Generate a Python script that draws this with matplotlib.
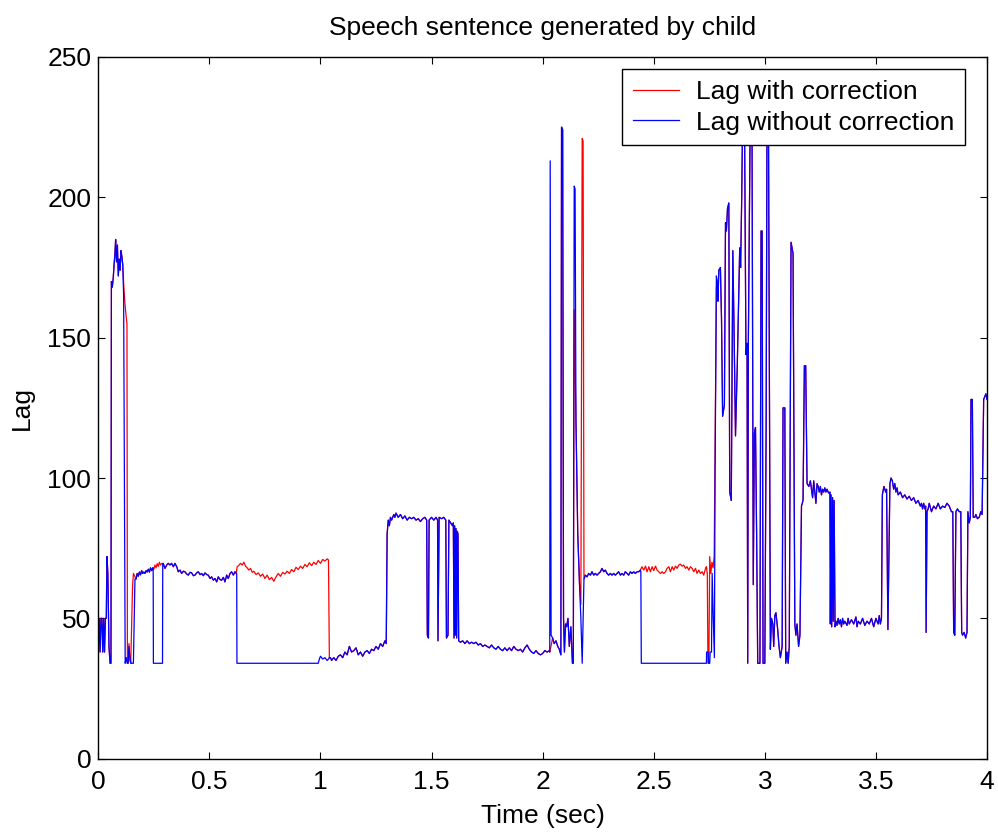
import matplotlib
matplotlib.use("Agg")
import matplotlib.pyplot as plt

plt.rcParams['font.family'] = ['Liberation Sans', 'DejaVu Sans']

# ---------------- data (time in s, lag in samples) ----------------
# shared start
seg0_t = [0.000, 0.004, 0.008, 0.012, 0.016, 0.020, 0.024, 0.028, 0.032, 0.036,
          0.039, 0.043, 0.048, 0.053, 0.057, 0.059, 0.063, 0.067, 0.071, 0.075,
          0.078, 0.082, 0.086, 0.090, 0.094, 0.098, 0.102, 0.106]
seg0_v = [38, 50, 38, 50, 50, 38, 50, 38, 50, 50,
          72, 66, 40, 34, 34, 170, 168, 171, 176, 180,
          185, 177, 183, 172, 178, 174, 181, 179]

red1_t = [0.110, 0.115, 0.120, 0.126, 0.129, 0.131, 0.134, 0.138, 0.142, 0.146,
          0.150, 0.154, 0.158, 0.164]
red1_v = [176, 168, 162, 157, 155, 36, 34, 41, 35, 34,
          48, 61, 66, 65]
blue1_t = [0.110, 0.114, 0.121, 0.126, 0.130, 0.134, 0.138, 0.142, 0.147, 0.152,
           0.158, 0.162, 0.165]
blue1_v = [176, 165, 34, 36, 34, 34, 40, 36, 34, 34,
           34, 50, 64]

seg2_t = [0.170, 0.175, 0.180, 0.185, 0.190, 0.195, 0.200, 0.205, 0.210, 0.215,
          0.220, 0.225, 0.230, 0.235, 0.240, 0.245]
seg2_v = [64, 66, 65, 66.5, 65.5, 67, 66, 66.5, 66, 67,
          66.5, 67.5, 66.5, 68, 67, 68]

red3_t = [0.250, 0.255, 0.260, 0.265, 0.270, 0.275, 0.280, 0.285]
red3_v = [67.5, 69, 68, 69.5, 68.5, 70, 69, 69.5]
blue3_t = [0.247, 0.248, 0.289, 0.290]
blue3_v = [68, 34, 34, 69]

seg4_t = [0.292, 0.300, 0.308, 0.315, 0.323, 0.330, 0.338, 0.345, 0.353, 0.360,
          0.368, 0.375, 0.383, 0.390, 0.398, 0.405, 0.413, 0.420, 0.428, 0.435,
          0.443, 0.450, 0.458, 0.465, 0.473, 0.480, 0.488, 0.495, 0.503, 0.510,
          0.518, 0.525, 0.533, 0.540, 0.548, 0.555, 0.563, 0.570, 0.578, 0.585,
          0.593, 0.600, 0.608, 0.615, 0.621]
seg4_v = [69.6, 67.8, 69.0, 69.6, 69.0, 69.6, 68.4, 69.6, 68.4, 66.6,
          67.2, 66.0, 66.8, 66.6, 65.8, 65.4, 66.4, 66.2, 65.2, 65.4,
          66.2, 66.6, 65.6, 66.0, 65.2, 66.2, 65.6, 65.4, 64.2, 64.8,
          63.6, 64.2, 63.0, 64.8, 63.8, 63.6, 64.6, 63.0, 65.4, 64.2,
          66.0, 66.6, 65.4, 66.6, 66.0]

red5_t = [0.625, 0.632, 0.640, 0.648, 0.655, 0.663, 0.670, 0.678, 0.685, 0.693,
          0.70, 0.71, 0.72, 0.73, 0.74, 0.75, 0.76, 0.77, 0.78, 0.79,
          0.80, 0.81, 0.82, 0.83, 0.84, 0.85, 0.86, 0.87, 0.88, 0.89,
          0.90, 0.91, 0.92, 0.93, 0.94, 0.95, 0.96, 0.97, 0.98, 0.99,
          1.00, 1.01, 1.02, 1.03, 1.036, 1.040]
red5_v = [68.4, 68.8, 69.6, 69.0, 70.0, 68.6, 68.0, 67.2, 67.8, 66.4,
          66.8, 65.6, 66.2, 65.0, 65.8, 64.2, 65.4, 63.8, 64.6, 63.2,
          64.8, 66.0, 65.0, 66.4, 65.8, 66.8, 66.0, 67.4, 66.6, 68.2,
          67.4, 68.6, 67.8, 69.2, 68.4, 69.8, 68.8, 70.0, 69.2, 70.6,
          69.6, 71.0, 70.4, 71.2, 70.8, 36.0]
blue5_t = [0.623, 0.624, 0.990, 0.995, 1.000, 1.010, 1.020, 1.030, 1.036, 1.040]
blue5_v = [66.0, 34, 34, 35.5, 36.5, 35.5, 36.0, 35.0, 35.5, 36.0]

seg6_t = [1.045, 1.05, 1.06, 1.07, 1.08, 1.09, 1.10, 1.11, 1.12, 1.13,
          1.14, 1.15, 1.16, 1.17, 1.18, 1.19, 1.20, 1.21, 1.22, 1.23,
          1.24, 1.25, 1.26, 1.27, 1.28, 1.29, 1.296, 1.300, 1.305, 1.31,
          1.315, 1.32, 1.33, 1.335, 1.34, 1.35, 1.36, 1.37, 1.38, 1.39,
          1.40, 1.41, 1.42, 1.43, 1.44, 1.45, 1.46, 1.47, 1.478, 1.481,
          1.486, 1.489, 1.50, 1.51, 1.52, 1.527, 1.529, 1.534, 1.545, 1.555,
          1.564, 1.567, 1.574, 1.578, 1.586, 1.594, 1.598, 1.601, 1.604, 1.607,
          1.610, 1.613, 1.616, 1.619, 1.622, 1.63, 1.64, 1.65, 1.66, 1.67,
          1.68, 1.69, 1.70, 1.71, 1.72, 1.73, 1.74, 1.75, 1.76, 1.77,
          1.78, 1.79, 1.80, 1.81, 1.82, 1.83, 1.84, 1.85, 1.86, 1.87,
          1.88, 1.89, 1.90, 1.91, 1.92, 1.93, 1.94, 1.95, 1.96, 1.97,
          1.98, 1.99, 2.00, 2.01, 2.02, 2.03]
seg6_v = [36, 35, 36, 35, 36.5, 37, 36, 38, 37, 40,
          38, 38.5, 39.5, 37, 38, 36.5, 38, 38.5, 37.5, 39,
          38.5, 40, 39, 41, 40, 42, 41, 80, 85, 83,
          86, 85, 87, 86, 87.5, 86, 87, 85.5, 86.5, 85,
          86, 85.5, 86, 85, 85.5, 84.5, 85.5, 86, 85, 44,
          43, 85, 86, 85, 86, 85, 42, 86, 85.5, 86,
          85, 43, 44, 85, 84, 83, 84, 43, 83, 44,
          82, 43, 81, 80, 42, 41.5, 42, 41, 42, 41,
          41.5, 41, 41.5, 40.5, 41, 40, 40.5, 40, 39.5, 40.5,
          39.5, 39, 40, 39, 38.5, 39.5, 38.5, 39.5, 38.5, 40,
          39, 38.5, 39, 38, 39.5, 40.5, 39, 38, 37.5, 38.5,
          37.5, 37, 37.5, 38.5, 38, 38.5]

red7_t = [2.032, 2.045, 2.052, 2.060, 2.068, 2.075, 2.082, 2.085, 2.090, 2.094,
          2.098, 2.103, 2.108, 2.114, 2.120, 2.127, 2.134, 2.138, 2.142, 2.150,
          2.158, 2.166, 2.172, 2.178, 2.182, 2.186]
red7_v = [38, 43, 41, 42, 40, 39, 37, 225, 224, 50,
          38, 48, 47, 50, 40, 47, 34, 34, 160, 120,
          80, 62, 55, 221, 220, 64]
blue7_t = [2.032, 2.034, 2.038, 2.045, 2.052, 2.060, 2.068, 2.075, 2.082, 2.085,
           2.090, 2.094, 2.098, 2.103, 2.108, 2.114, 2.120, 2.127, 2.134, 2.138,
           2.142, 2.146, 2.150, 2.158, 2.166, 2.172, 2.178, 2.186]
blue7_v = [38, 213, 44, 43, 41, 42, 40, 39, 37, 225,
           224, 50, 38, 48, 47, 50, 40, 47, 34, 34,
           204, 203, 120, 80, 62, 50, 34, 64]

seg8_t = [2.192, 2.200, 2.207, 2.215, 2.222, 2.230, 2.237, 2.245, 2.252, 2.260,
          2.267, 2.275, 2.282, 2.290, 2.297, 2.305, 2.312, 2.320, 2.327, 2.335,
          2.342, 2.350, 2.357, 2.365, 2.372, 2.380, 2.387, 2.395, 2.402, 2.410,
          2.417, 2.425, 2.432, 2.440]
seg8_v = [65.4, 64.8, 66.0, 65.4, 66.6, 65.4, 66.0, 65.4, 66.0, 66.6,
          67.8, 66.6, 67.2, 66.0, 65.4, 66.0, 65.4, 66.0, 65.4, 66.0,
          66.6, 65.4, 66.0, 65.4, 66.6, 66.0, 65.4, 66.6, 66.0, 66.6,
          66.0, 66.6, 66.6, 67.2]

red9_t = [2.447, 2.455, 2.463, 2.470, 2.478, 2.485, 2.493, 2.500, 2.508, 2.515,
          2.523, 2.530, 2.538, 2.545, 2.553, 2.560, 2.568, 2.575, 2.583, 2.590,
          2.598, 2.605, 2.613, 2.620, 2.628, 2.635, 2.643, 2.650, 2.658, 2.665,
          2.673, 2.680, 2.688, 2.695, 2.703, 2.710, 2.718, 2.725, 2.733, 2.737,
          2.741, 2.744, 2.748, 2.752, 2.757, 2.762, 2.767, 2.772, 2.777, 2.782]
red9_v = [68.4, 67.2, 68.6, 66.6, 68.4, 66.6, 68.4, 67.0, 68.6, 67.2,
          66.6, 66.0, 66.6, 66.0, 66.6, 67.8, 68.4, 66.6, 68.4, 67.2,
          68.6, 67.8, 69.0, 69.3, 68.6, 69.0, 67.8, 68.4, 67.2, 68.4,
          67.8, 66.6, 67.8, 66.0, 67.2, 66.0, 66.6, 65.4, 67.8, 68.4,
          66.0, 34.0, 34.0, 72.0, 66.0, 70.0, 68.0, 72.0, 120.0, 168.0]
blue9_t = [2.442, 2.444, 2.737, 2.738, 2.745, 2.747, 2.752, 2.754, 2.760, 2.763,
           2.768, 2.773, 2.776, 2.782]
blue9_v = [66.6, 34, 34, 38, 38, 34, 34, 38, 38, 66,
           50, 36, 100, 172]

seg10_t = [2.786, 2.789, 2.793, 2.800, 2.805, 2.810, 2.818, 2.823, 2.827, 2.832,
           2.838, 2.842, 2.849, 2.856, 2.862, 2.868, 2.876, 2.887, 2.891, 2.896,
           2.901, 2.908, 2.915, 2.920, 2.923, 2.926, 2.930, 2.935, 2.942, 2.948,
           2.953, 2.958, 2.963, 2.968, 2.978, 2.983, 2.988, 2.992, 3.000, 3.006,
           3.010, 3.016, 3.025, 3.030, 3.036, 3.040, 3.045, 3.050, 3.058, 3.064,
           3.070, 3.078, 3.082, 3.090, 3.094, 3.100, 3.105, 3.110, 3.118, 3.127,
           3.135, 3.140, 3.145, 3.152, 3.158, 3.165, 3.172, 3.178, 3.184, 3.190,
           3.198, 3.205]
seg10_v = [170, 163, 174, 175, 157, 122, 126, 191, 188, 196,
           198, 95, 92, 181, 150, 115, 140, 182, 175, 200,
           235, 235, 144, 148, 34, 150, 190, 235, 235, 62,
           116, 118, 80, 34, 34, 188, 188, 34, 34, 120,
           235, 235, 39, 50, 48, 40, 51, 52, 46, 40,
           36, 40, 125, 125, 34, 38, 34, 40, 184, 180,
           48, 44, 48, 40, 44, 90, 92, 140, 140, 98,
           97, 99]

seg11_t = [3.210, 3.215, 3.220, 3.225, 3.230, 3.235, 3.240, 3.245, 3.250, 3.255,
           3.260, 3.265, 3.270, 3.275, 3.280, 3.285, 3.290, 3.293, 3.295, 3.298,
           3.301, 3.305, 3.308, 3.312, 3.316, 3.320, 3.325, 3.330, 3.335, 3.340,
           3.345, 3.350, 3.355, 3.360, 3.370, 3.375, 3.380, 3.390, 3.400, 3.410,
           3.415, 3.420, 3.430, 3.440, 3.450, 3.460, 3.470, 3.480, 3.490, 3.500,
           3.510, 3.515, 3.520, 3.525, 3.529, 3.536, 3.544, 3.548, 3.554, 3.563,
           3.568, 3.574, 3.580, 3.585, 3.590, 3.595, 3.600, 3.610, 3.620, 3.630,
           3.640, 3.650, 3.660, 3.670, 3.680, 3.690, 3.700, 3.705, 3.710, 3.715,
           3.720, 3.724, 3.726, 3.730, 3.735, 3.740, 3.750, 3.760, 3.770, 3.780,
           3.790, 3.800, 3.810, 3.820, 3.830, 3.840, 3.846, 3.850, 3.855, 3.860,
           3.867, 3.875, 3.882, 3.886, 3.890, 3.897, 3.904, 3.910, 3.914, 3.920,
           3.925, 3.928, 3.934, 3.938, 3.945, 3.950, 3.957, 3.965, 3.972, 3.978,
           3.985, 3.990, 3.995, 4.000]
seg11_v = [96, 93, 99, 95, 91, 98, 97, 95, 97, 94,
           96, 95, 96.5, 95, 96, 95, 94.5, 95, 48, 94,
           47, 93, 49, 92, 47, 49, 47.5, 50, 48, 49.5,
           47, 50, 48, 49, 47.5, 50, 48, 49.5, 48, 50.5,
           47, 49, 48, 50, 47.5, 49, 48, 50, 47, 50,
           48, 51, 48, 50, 94, 97, 95, 96, 46, 98,
           100, 99, 96, 98, 95, 96.5, 94, 95, 93, 94,
           92.5, 93.5, 92, 93, 91, 92, 90, 91, 89, 91,
           89, 90, 45, 88, 89, 91, 88, 90, 89, 91,
           89, 90, 89.5, 91, 90, 88, 88, 45, 44, 88,
           89, 88, 88, 45, 44, 45, 43, 45, 88, 84,
           86, 128, 128, 86, 86, 87, 85.5, 86, 88, 87,
           128, 129, 130, 128]

x_ticks = [0, 0.5, 1, 1.5, 2, 2.5, 3, 3.5, 4]
x_tick_labels = ['0', '0.5', '1', '1.5', '2', '2.5', '3', '3.5', '4']
y_ticks = [0, 50, 100, 150, 200, 250]
y_tick_labels = ['0', '50', '100', '150', '200', '250']

red_t = (seg0_t + red1_t + seg2_t + red3_t + seg4_t + red5_t + seg6_t + red7_t
         + seg8_t + red9_t + seg10_t + seg11_t)
red_v = (seg0_v + red1_v + seg2_v + red3_v + seg4_v + red5_v + seg6_v + red7_v
         + seg8_v + red9_v + seg10_v + seg11_v)
blue_t = (seg0_t + blue1_t + seg2_t + blue3_t + seg4_t + blue5_t + seg6_t + blue7_t
          + seg8_t + blue9_t + seg10_t + seg11_t)
blue_v = (seg0_v + blue1_v + seg2_v + blue3_v + seg4_v + blue5_v + seg6_v + blue7_v
          + seg8_v + blue9_v + seg10_v + seg11_v)

n = min(len(red_t), len(red_v)); red_t, red_v = red_t[:n], red_v[:n]
n = min(len(blue_t), len(blue_v)); blue_t, blue_v = blue_t[:n], blue_v[:n]

# ---------------- figure ----------------
W, H = 998, 832
fig = plt.figure(figsize=(W / 100, H / 100), dpi=100)
fig.patch.set_facecolor('white')
ax = fig.add_axes([98.3 / W, 1 - 758.7 / H, (987.0 - 98.3) / W, (758.7 - 57) / H])

ax.plot(red_t, red_v, color='#ff0000', lw=0.9, label='Lag with correction')
ax.plot(blue_t, blue_v, color='#0000ff', lw=0.9, label='Lag without correction')

ax.set_xlim(0, 4)
ax.set_ylim(0, 250)
ax.set_xticks(x_ticks)
ax.set_xticklabels(x_tick_labels)
ax.set_yticks(y_ticks)
ax.set_yticklabels(y_tick_labels)

fs = 19
ax.tick_params(direction='in', length=5, width=0.8, top=True, right=True,
               labelsize=fs, colors='black')
ax.tick_params(axis='x', pad=8)
ax.tick_params(axis='y', pad=5)
for sp in ax.spines.values():
    sp.set_linewidth(1.0)
    sp.set_color('black')

ax.set_title('Speech sentence generated by child', fontsize=fs, pad=16)
ax.set_xlabel('Time (sec)', fontsize=fs, labelpad=7)
ax.set_ylabel('Lag', fontsize=fs, labelpad=10)

leg = ax.legend(loc='upper right', bbox_to_anchor=(0.9755, 0.9825),
                borderaxespad=0, fontsize=fs, frameon=True, fancybox=False,
                edgecolor='black', framealpha=1, handlelength=1.75,
                handletextpad=0.65, borderpad=0.4, labelspacing=0.26)
leg.get_frame().set_linewidth(1.0)
leg.set_zorder(5)

fig.savefig('out.png', dpi=100, facecolor='white')
